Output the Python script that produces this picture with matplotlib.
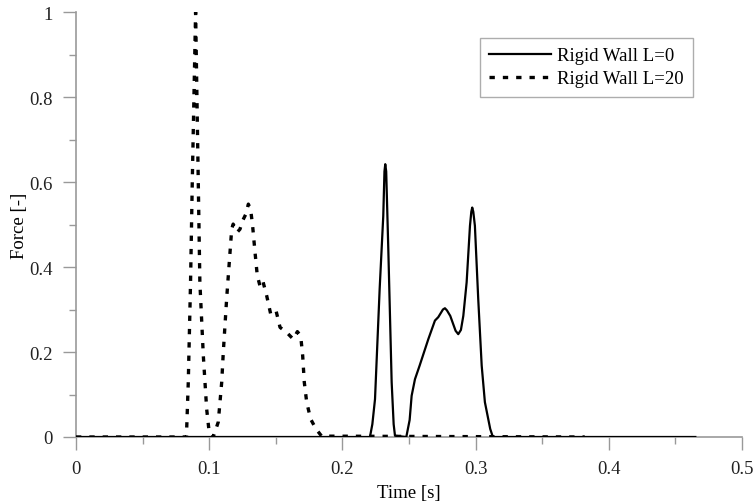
import numpy as np
import matplotlib.pyplot as plt
from matplotlib.ticker import MultipleLocator, FormatStrFormatter

# Rigid Wall L=0 (solid)
t_l0 = [0.0, 0.2207, 0.2225, 0.2245, 0.228, 0.2307, 0.2316, 0.2322, 0.2329, 0.2345,
        0.237, 0.2385, 0.2395, 0.248, 0.2505, 0.252, 0.2545, 0.258, 0.2645, 0.2695,
        0.272, 0.2755, 0.277, 0.2785, 0.281, 0.285, 0.287, 0.289, 0.2908, 0.2933,
        0.2958, 0.2968, 0.2975, 0.2983, 0.2995, 0.302, 0.3046, 0.307, 0.311, 0.313,
        0.465]
f_l0 = [0.0, 0.0, 0.03, 0.089, 0.349, 0.52, 0.625, 0.642, 0.625, 0.44,
        0.129, 0.03, 0.003, 0.0, 0.04, 0.097, 0.136, 0.168, 0.23, 0.274,
        0.282, 0.3, 0.303, 0.298, 0.285, 0.25, 0.242, 0.252, 0.285, 0.364,
        0.497, 0.53, 0.54, 0.53, 0.497, 0.325, 0.168, 0.082, 0.019, 0.0,
        0.0]

# Rigid Wall L=20 (dashed)
t_l20 = [0.0, 0.083, 0.0831, 0.0843, 0.086, 0.0873, 0.0898, 0.0918, 0.093, 0.0956,
         0.0981, 0.1, 0.103, 0.1068, 0.1094, 0.1106, 0.1131, 0.1149, 0.1169, 0.118,
         0.1211, 0.1231, 0.1251, 0.1276, 0.1294, 0.1311, 0.1326, 0.1344, 0.1361, 0.1381,
         0.1402, 0.1432, 0.1462, 0.1502, 0.1532, 0.1582, 0.1632, 0.1662, 0.1687, 0.1702,
         0.1714, 0.1732, 0.1762, 0.1802, 0.1844, 0.382]
f_l20 = [0.0, 0.0, 0.019, 0.129, 0.364, 0.6, 1.0, 0.6, 0.364, 0.191,
         0.066, 0.011, 0.0, 0.035, 0.129, 0.2, 0.325, 0.403, 0.489, 0.501,
         0.482, 0.489, 0.509, 0.525, 0.548, 0.536, 0.497, 0.435, 0.38, 0.356,
         0.368, 0.332, 0.289, 0.297, 0.258, 0.246, 0.23, 0.248, 0.238, 0.191,
         0.129, 0.082, 0.042, 0.019, 0.002, 0.0]

plt.rcParams['font.family'] = ['Liberation Serif', 'DejaVu Serif']
gris = '#999999'
fs = 13.5

fig = plt.figure(figsize=(7.54, 5.02), dpi=100)
ax = fig.add_axes([0.1008, 0.1275, 0.8832, 0.8465])

ax.plot(t_l0, f_l0, color='black', lw=1.6, solid_joinstyle='round',
        label='Rigid Wall L=0', zorder=3)
ax.plot(t_l20, f_l20, color='black', lw=2.4, dashes=(1.6, 2.4),
        dash_joinstyle='round', label='Rigid Wall L=20', zorder=4)

ax.set_xlim(0, 0.5)
ax.set_ylim(0, 1)
ax.xaxis.set_major_locator(MultipleLocator(0.1))
ax.xaxis.set_minor_locator(MultipleLocator(0.05))
ax.yaxis.set_major_locator(MultipleLocator(0.2))
ax.yaxis.set_minor_locator(MultipleLocator(0.1))
ax.xaxis.set_major_formatter(FormatStrFormatter('%g'))
ax.yaxis.set_major_formatter(FormatStrFormatter('%g'))

for lado in ['top', 'right']:
    ax.spines[lado].set_visible(False)
for lado in ['left', 'bottom']:
    ax.spines[lado].set_color(gris)
    ax.spines[lado].set_linewidth(1.2)
    ax.spines[lado].set_zorder(1)

ax.tick_params(which='major', direction='out', length=9.5, width=1, color=gris,
               labelsize=fs, labelcolor='#222222')
ax.tick_params(which='minor', direction='out', length=5, width=1, color=gris)
ax.tick_params(axis='x', which='major', pad=7)
ax.tick_params(axis='y', which='major', pad=7)

ax.set_xlabel('Time [s]', fontsize=fs, labelpad=5)
ax.set_ylabel('Force [-]', fontsize=fs, labelpad=1)

leg = ax.legend(loc='upper right', bbox_to_anchor=(0.926, 0.939), fontsize=fs,
                fancybox=False, frameon=True, handlelength=3.3, borderpad=0.5,
                labelspacing=0.3, handletextpad=0.3, borderaxespad=0)
leg.get_frame().set_edgecolor(gris)
leg.get_frame().set_linewidth(1)

fig.savefig('out.png', dpi=100)
